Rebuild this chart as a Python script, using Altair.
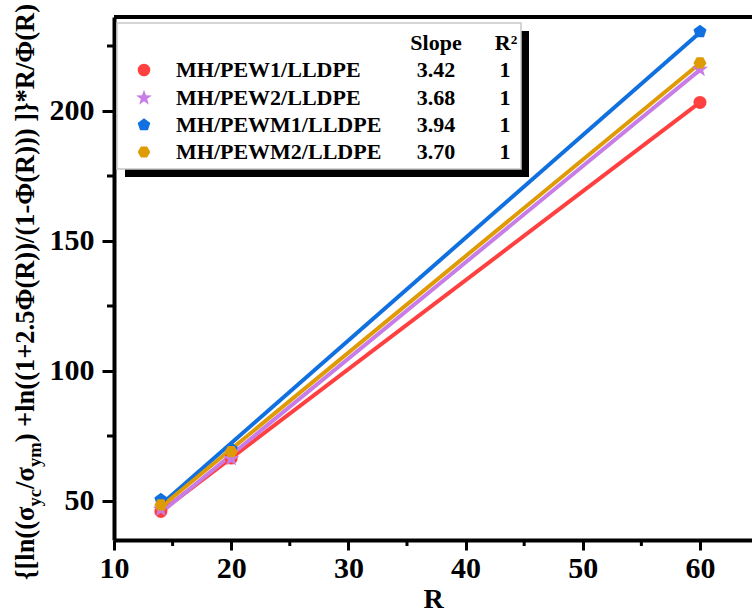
import altair as alt
import pandas as pd

series = ["MH/PEW1/LLDPE", "MH/PEW2/LLDPE", "MH/PEWM1/LLDPE", "MH/PEWM2/LLDPE"]
slopes = ["3.42", "3.68", "3.94", "3.70"]
r2 = ["1", "1", "1", "1"]
R_vals = [14, 20, 60]
y_pew1 = [46.0, 66.5, 203.3]
y_pew2 = [46.8, 66.3, 216.0]
y_pewm1 = [50.5, 70.0, 230.5]
y_pewm2 = [48.5, 69.0, 218.5]
x_major = [10, 20, 30, 40, 50, 60]
x_minor = [15, 25, 35, 45, 55]
y_major = [50, 100, 150, 200]
y_minor = [75, 125, 175, 225]

colors = ["#FF4040", "#C77CE8", "#1170E0", "#DE9B05"]
star = "M0,-1.3L0.3056,-0.4207L1.2364,-0.4017L0.4945,0.1607L0.7641,1.0517L0,0.52L-0.7641,1.0517L-0.4945,0.1607L-1.2364,-0.4017L-0.3056,-0.4207Z"
pent = "M0,-1.05L0.999,-0.324L0.617,0.849L-0.617,0.849L-0.999,-0.324Z"
hexa = "M-1,0L-0.5,-0.866L0.5,-0.866L1,0L0.5,0.866L-0.5,0.866Z"
shapes = ["circle", star, pent, hexa]

rows = []
for s, ys in zip(series, [y_pew1, y_pew2, y_pewm1, y_pewm2]):
    for r, v in zip(R_vals, ys):
        rows.append({"series": s, "R": r, "value": v})
df = pd.DataFrame(rows)

W, H = 638, 523
FONT = "Times New Roman, Liberation Serif, DejaVu Serif, serif"
XD = [10, 64.44]
YD = [35.0, 236.15]

xs = alt.Scale(domain=XD, nice=False, zero=False)
ys_ = alt.Scale(domain=YD, nice=False, zero=False)
cscale = alt.Scale(domain=series, range=colors)
sscale = alt.Scale(domain=series, range=shapes)

base = alt.Chart(df)

lines = base.transform_regression("R", "value", groupby=["series"]).mark_line(strokeWidth=4).encode(
    x=alt.X("R:Q", scale=xs, axis=alt.Axis(values=x_major, title="R", labelFont=FONT, labelFontSize=30,
                                            labelFontWeight="bold", labelColor="black", titleFont=FONT,
                                            titleFontSize=28, titleFontWeight="bold", titleColor="black",
                                            domainColor="black", domainWidth=4, tickColor="black", tickWidth=3,
                                            tickSize=10, labelPadding=3, titlePadding=2, grid=False, labelFlush=False)),
    y=alt.Y("value:Q", scale=ys_, axis=alt.Axis(values=y_major, title=None, labelFont=FONT, labelFontSize=30,
                                                labelFontWeight="bold", labelColor="black",
                                                domainColor="black", domainWidth=4, tickColor="black", tickWidth=3,
                                                tickSize=12, labelPadding=8, grid=False)),
    color=alt.Color("series:N", scale=cscale, legend=None),
    detail="series:N",
)

points = base.mark_point(filled=True, opacity=1, size=170).encode(
    x=alt.X("R:Q", scale=xs),
    y=alt.Y("value:Q", scale=ys_),
    color=alt.Color("series:N", scale=cscale, legend=None),
    shape=alt.Shape("series:N", scale=sscale, legend=None),
)

xminor = alt.Chart(pd.DataFrame({"m": x_minor})).mark_rule(color="black", strokeWidth=3).encode(
    x=alt.X("m:Q", scale=xs), y=alt.value(H), y2=alt.value(H + 6))
yminor = alt.Chart(pd.DataFrame({"m": y_minor})).mark_rule(color="black", strokeWidth=3).encode(
    y=alt.Y("m:Q", scale=ys_), x=alt.value(0), x2=alt.value(-7))

one = pd.DataFrame({"a": [0]})
topline = alt.Chart(one).mark_rule(color="black", strokeWidth=4).encode(
    x=alt.value(0), x2=alt.value(W), y=alt.value(0))

shadow = alt.Chart(one).mark_rect(color="black").encode(
    x=alt.value(11), x2=alt.value(415), y=alt.value(14), y2=alt.value(160))
box = alt.Chart(one).mark_rect(fill="white", stroke="#c8c8c8", strokeWidth=1.5).encode(
    x=alt.value(3), x2=alt.value(407), y=alt.value(6), y2=alt.value(152))

layers = [xminor, yminor, lines, points, topline, shadow, box]

def txt(t, x, y, align="left", size=22, angle=0, baseline="middle"):
    return alt.Chart(one).mark_text(text=t, font=FONT, fontSize=size, fontWeight="bold", color="black",
                                    align=align, baseline=baseline, angle=angle).encode(
        x=alt.value(x), y=alt.value(y))

layers.append(txt("Slope", 322, 26, "center"))
layers.append(txt("R²", 392, 26, "center"))
row_y = [53, 81, 108, 135]
for i in range(4):
    layers.append(alt.Chart(one).mark_point(filled=True, opacity=1, size=160, shape=shapes[i], color=colors[i]).encode(
        x=alt.value(30), y=alt.value(row_y[i])))
    layers.append(txt(series[i], 62, row_y[i], "left", 22))
    layers.append(txt(slopes[i], 322, row_y[i], "center", 22))
    layers.append(txt(r2[i], 391, row_y[i], "center", 22))

# y-axis title built from segments (with subscripts)
cw = {"{": .394, "[": .333, "l": .278, "n": .556, "(": .333, "σ": .55, "y": .5, "c": .444, "/": .278,
      "m": .833, ")": .333, " ": .25, "+": .57, "1": .5, "2": .5, ".": .25, "5": .5, "Φ": .76, "R": .722,
      "-": .333, "]": .333, "}": .394, "*": .5}
segs = [("{[ln((σ", False), ("yc", True), ("/σ", False), ("ym", True),
        (") +ln((1+2.5Φ(R))/(1-Φ(R))) ]}*R/Φ(R)", False)]
MAIN, SUB = 26.5, 18.5
pos = 563
for t, sub in segs:
    fs = SUB if sub else MAIN
    layers.append(txt(t, -80 + (7 if sub else 0), pos, "left", fs, 270, "alphabetic"))
    pos -= sum(cw.get(c, .5) for c in t) * fs

chart = alt.layer(*layers).properties(
    width=W, height=H,
    autosize=alt.AutoSizeParams(type="none"),
    padding={"left": 114, "top": 17, "right": 0, "bottom": 72},
).configure_view(stroke=None).configure(background="white")

chart.save("out.html", embed_options={"renderer": "svg", "actions": False})
